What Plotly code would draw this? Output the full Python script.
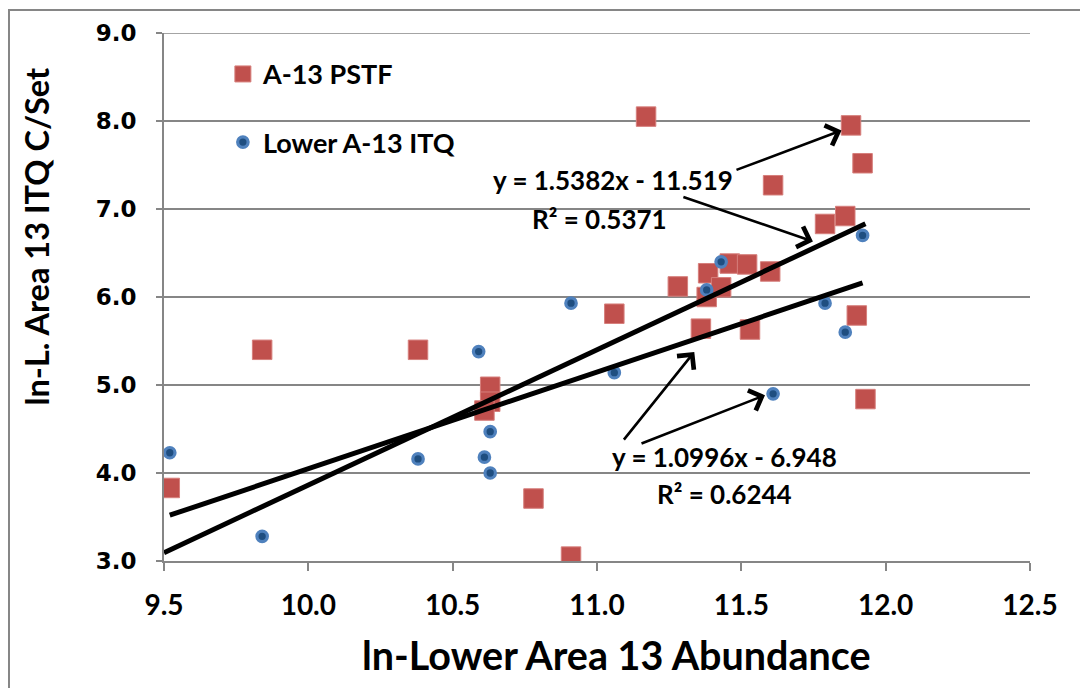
import plotly.graph_objects as go

# ---- data ----
pstf_x = [9.52, 9.84, 10.38, 10.63, 10.63, 10.61, 10.78, 10.91, 11.06, 11.17,
          11.28, 11.36, 11.38, 11.385, 11.43, 11.46, 11.52, 11.53, 11.60, 11.61,
          11.79, 11.86, 11.88, 11.90, 11.92, 11.93]
pstf_y = [3.83, 5.40, 5.40, 4.98, 4.81, 4.71, 3.71, 3.05, 5.81, 8.05,
          6.12, 5.64, 6.00, 6.27, 6.11, 6.38, 6.37, 5.63, 6.29, 7.27,
          6.83, 6.92, 7.95, 5.79, 7.52, 4.84]

itq_x = [9.52, 9.84, 10.38, 10.59, 10.63, 10.61, 10.63, 10.91, 11.06, 11.38,
         11.43, 11.61, 11.79, 11.86, 11.92]
itq_y = [4.23, 3.28, 4.16, 5.38, 4.47, 4.18, 4.00, 5.93, 5.14, 6.08,
         6.40, 4.90, 5.93, 5.60, 6.70]

series_names = ["A-13 PSTF", "Lower A-13 ITQ"]

# trendline coefficients as printed on the chart
pstf_slope, pstf_intercept, pstf_r2 = 1.5382, -11.519, 0.5371
itq_slope, itq_intercept, itq_r2 = 1.0996, -6.948, 0.6244
pstf_trend_x = [9.50, 11.93]
itq_trend_x = [9.52, 11.92]

x_ticks = [9.5, 10.0, 10.5, 11.0, 11.5, 12.0, 12.5]
y_ticks = [3.0, 4.0, 5.0, 6.0, 7.0, 8.0, 9.0]

x_title = "ln-Lower Area 13 Abundance"
y_title = "ln-L. Area 13 ITQ C/Set"

RED = "#C0504D"
BLUE_EDGE = "#4F81BD"
BLUE_FILL = "#1F4E80"
GRID = "#868686"
FONT = "Lato"

fig = go.Figure()

fig.add_trace(go.Scatter(
    x=pstf_x, y=pstf_y, mode="markers", name=series_names[0],
    legendgroup="a",
    marker=dict(symbol="square", size=19.5, color=RED,
                line=dict(color="#D67F7C", width=1)),
))
fig.add_trace(go.Scatter(
    x=itq_x, y=itq_y, mode="markers", name=series_names[1],
    legendgroup="b",
    marker=dict(symbol="circle", size=10.5, color=BLUE_FILL,
                line=dict(color=BLUE_EDGE, width=3.2)),
))

def trend(xs, m, b):
    return [m * v + b for v in xs]

fig.add_trace(go.Scatter(
    x=pstf_trend_x, y=trend(pstf_trend_x, pstf_slope, pstf_intercept),
    mode="lines", line=dict(color="black", width=5), showlegend=False,
    hoverinfo="skip"))
fig.add_trace(go.Scatter(
    x=itq_trend_x, y=trend(itq_trend_x, itq_slope, itq_intercept),
    mode="lines", line=dict(color="black", width=5), showlegend=False,
    hoverinfo="skip"))

def eq_text(m, b):
    sign = "-" if b < 0 else "+"
    return f"y = {m:.4f}x {sign} {abs(b):g}"

txt_font = dict(family=FONT, size=26, color="black", weight="bold")
annotations = [
    dict(x=11.057, y=7.33, xref="x", yref="y", text=eq_text(pstf_slope, pstf_intercept),
         showarrow=False, font=txt_font),
    dict(x=11.008, y=6.89, xref="x", yref="y", text=f"R² = {pstf_r2:.4f}",
         showarrow=False, font=txt_font),
    dict(x=11.441, y=4.18, xref="x", yref="y", text=eq_text(itq_slope, itq_intercept),
         showarrow=False, font=txt_font),
    dict(x=11.441, y=3.76, xref="x", yref="y", text=f"R² = {itq_r2:.4f}",
         showarrow=False, font=txt_font),
    # axis titles, placed as in the original
    dict(x=-0.1475, y=0.615, xref="paper", yref="paper", text=y_title,
         textangle=-90, showarrow=False, xanchor="center", yanchor="middle",
         font=dict(family=FONT, size=32.5, color="black", weight="bold")),
    dict(x=0.522, y=-0.178, xref="paper", yref="paper", text=x_title,
         showarrow=False, xanchor="center", yanchor="middle",
         font=dict(family=FONT, size=39.5, color="black", weight="bold")),
]
arrows = [
    ((11.478, 7.438), (11.847, 7.892)),
    ((11.294, 7.143), (11.748, 6.632)),
    ((11.089, 4.362), (11.337, 5.376)),
    ((11.149, 4.328), (11.582, 4.884)),
]
for (tx, ty), (hx, hy) in arrows:
    annotations.append(dict(
        x=hx, y=hy, ax=tx, ay=ty, xref="x", yref="y", axref="x", ayref="y",
        text="", showarrow=True, arrowhead=4, arrowsize=1.6, arrowwidth=2.6,
        arrowcolor="black", standoff=0, startstandoff=0))

fig.update_layout(
    width=1088, height=688,
    margin=dict(l=156, r=66, t=25, b=135, autoexpand=False),
    paper_bgcolor="white", plot_bgcolor="white",
    font=dict(family=FONT, color="black"),
    showlegend=True,
    legend=dict(x=0.068, y=0.968, xanchor="left", yanchor="top",
                bgcolor="rgba(0,0,0,0)", traceorder="grouped",
                tracegroupgap=30,
                font=dict(family=FONT, size=27, color="black",
                          weight="bold")),
    annotations=annotations,
    shapes=[dict(type="rect", xref="paper", yref="paper",
                 x0=-0.1790, x1=1.09, y0=-0.28, y1=1.0436,
                 line=dict(color=GRID, width=2), layer="below")],
)

fig.update_xaxes(
    range=[9.5, 12.5], tickvals=x_ticks, ticktext=[f"{v:.1f}" for v in x_ticks],
    showgrid=False, zeroline=False, automargin=False,
    showline=True, linecolor=GRID, linewidth=2,
    ticks="outside", ticklen=8, tickcolor=GRID, tickwidth=1.5,
    ticklabelstandoff=10,
    tickfont=dict(family=FONT, size=28, color="black", weight="bold"),
)
fig.update_yaxes(
    range=[3.0, 9.0], tickvals=y_ticks, ticktext=[f"{v:.1f}" for v in y_ticks],
    showgrid=True, gridcolor=GRID, gridwidth=1.5, zeroline=False,
    automargin=False,
    showline=True, linecolor=GRID, linewidth=2,
    ticks="outside", ticklen=6, tickcolor=GRID, tickwidth=1.5,
    ticklabelstandoff=15,
    tickfont=dict(family="DejaVu Sans", size=23, color="black", weight="bold"),
)
# top gridline at 9.0 (plotly omits the gridline on the range edge)
fig.add_hline(y=9.0, line=dict(color=GRID, width=1.5), layer="below")

fig.write_html("out.html")
